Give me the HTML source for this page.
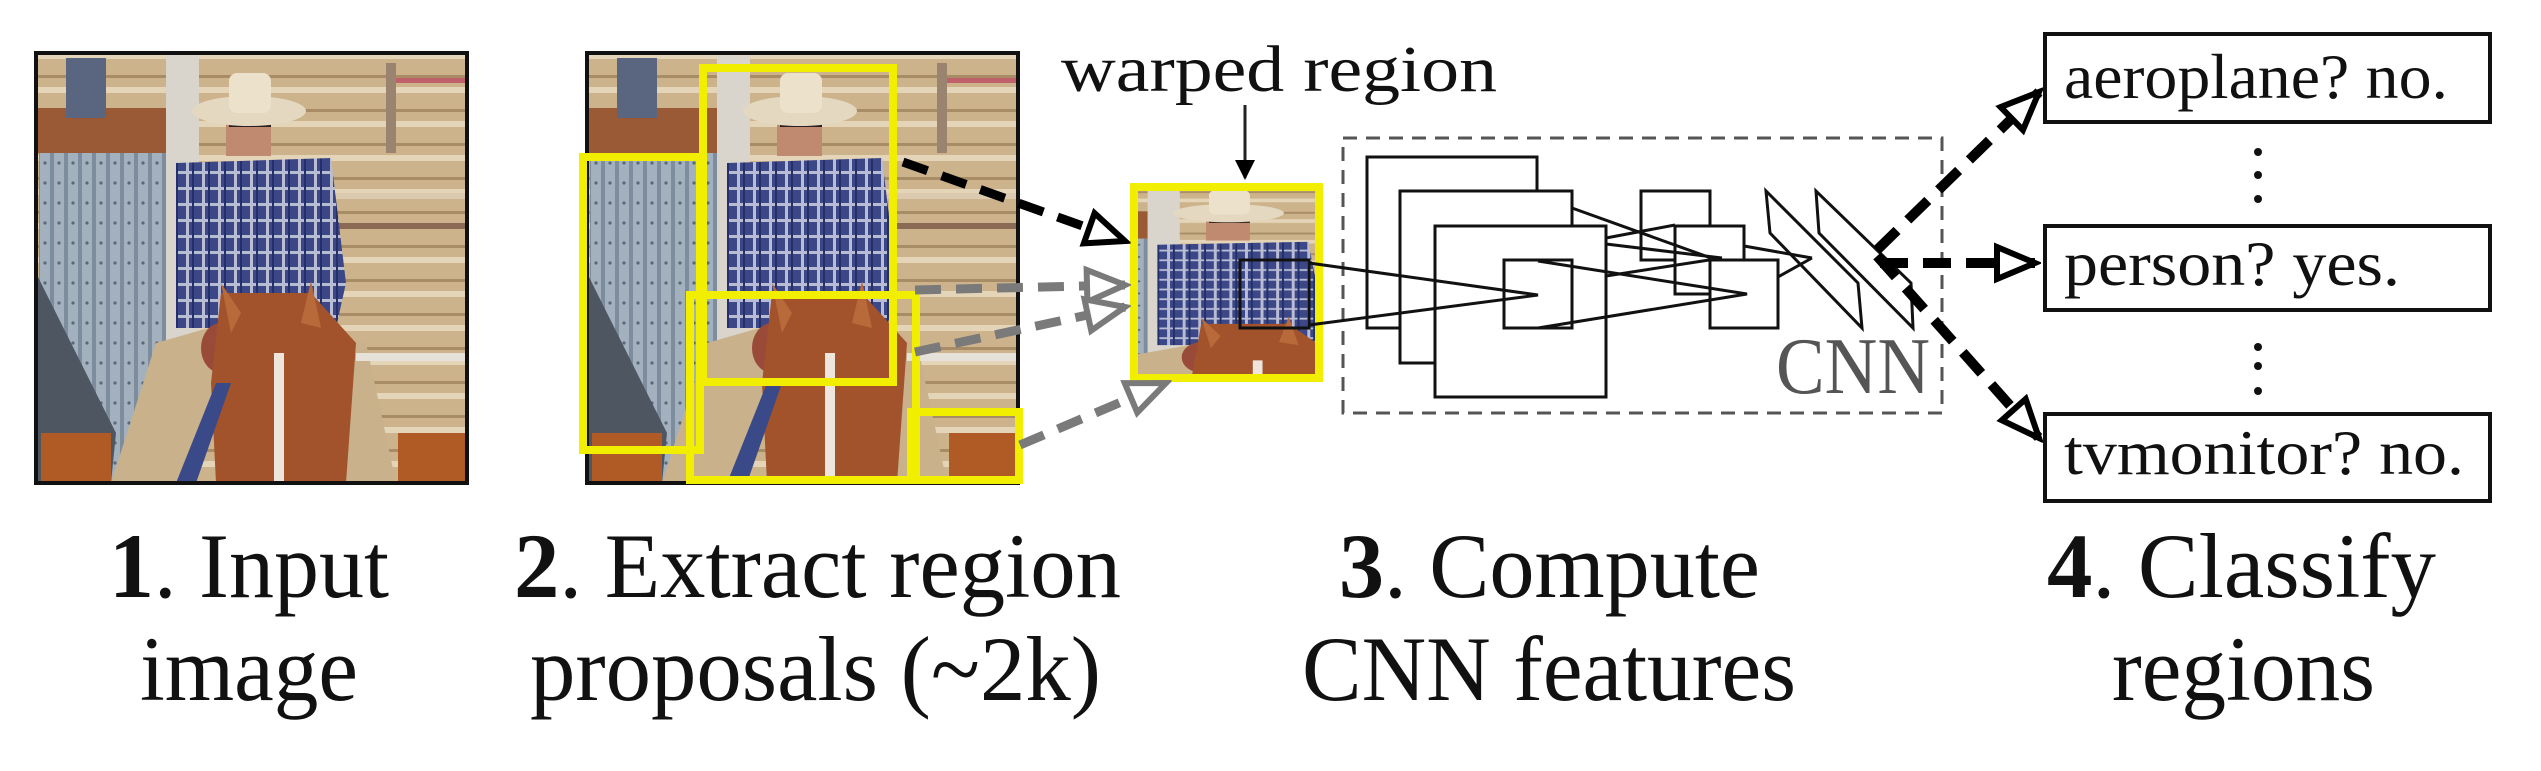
<!DOCTYPE html>
<html><head><meta charset="utf-8"><style>
html,body{margin:0;padding:0;background:#fff;}
svg{display:block;}
text{font-family:"Liberation Serif","Times New Roman",Times,serif;}
</style></head><body>
<svg width="2541" height="771" viewBox="0 0 2541 771" xmlns="http://www.w3.org/2000/svg" font-family="'Liberation Serif', 'Times New Roman', Times, serif">
<defs>
<pattern id="plaid" width="16" height="16" patternUnits="userSpaceOnUse">
<rect width="16" height="16" fill="#3c4788"/>
<rect x="0" y="6" width="16" height="3" fill="#b9bdd4"/>
<rect x="6" y="0" width="3" height="16" fill="#b9bdd4"/>
<rect x="12" y="0" width="2" height="16" fill="#25306a"/>
</pattern>
<pattern id="corr" width="14" height="20" patternUnits="userSpaceOnUse">
<rect width="14" height="20" fill="#a3b1bf"/>
<rect x="0" width="4" height="20" fill="#7d8d9d"/>
<circle cx="9" cy="10" r="1.6" fill="#5a6878"/>
</pattern>
<pattern id="planks" width="40" height="34" patternUnits="userSpaceOnUse">
<rect width="40" height="34" fill="#cdb38c"/>
<rect y="0" width="40" height="6" fill="#e4d4b8"/>
<rect y="22" width="40" height="3" fill="#a88c66"/>
</pattern>
<symbol id="scene" viewBox="0 0 431 430" preserveAspectRatio="none">
<rect width="431" height="430" fill="url(#planks)"/>
<rect x="300" y="170" width="131" height="6" fill="#8a6a55"/>
<rect x="300" y="140" width="131" height="6" fill="#dccab0"/>
<rect x="350" y="10" width="10" height="90" fill="#9a8470"/>
<rect x="360" y="25" width="70" height="5" fill="#c0606a"/>
<rect x="0" y="55" width="130" height="45" fill="#9a5a35"/>
<rect x="30" y="5" width="40" height="60" fill="#5a6680"/>
<rect x="3" y="100" width="130" height="330" fill="url(#corr)"/>
<polygon points="0,220 80,380 75,430 0,430" fill="#4e5662"/>
<rect x="130" y="0" width="33" height="290" fill="#d9d5cc"/>
<polygon points="140,110 295,105 310,230 300,275 140,275" fill="url(#plaid)"/>
<rect x="190" y="58" width="45" height="45" fill="#c08a70"/>
<rect x="193" y="66" width="42" height="8" fill="#2a2020"/>
<ellipse cx="213" cy="58" rx="57" ry="15" fill="#e4d8c0"/>
<rect x="193" y="20" width="42" height="40" rx="8" fill="#ece2cc"/>
<polygon points="75,430 120,290 190,270 200,330 150,430" fill="#c9b18c"/>
<polygon points="290,280 330,290 360,430 310,430" fill="#c9b18c"/>
<ellipse cx="185" cy="295" rx="20" ry="25" fill="#9a4a38"/>
<polygon points="185,240 275,240 320,290 310,430 180,430 175,330" fill="#a2532b"/>
<polygon points="185,230 205,260 195,280" fill="#b86a3a"/>
<polygon points="275,228 265,270 285,275" fill="#b86a3a"/>
<rect x="238" y="300" width="10" height="130" fill="#eee6dc"/>
<polygon points="140,430 180,330 195,330 160,430" fill="#3a4a88"/>
<rect x="5" y="380" width="70" height="50" fill="#b05a25"/>
<rect x="362" y="380" width="69" height="50" fill="#b05a25"/>
<rect x="320" y="300" width="111" height="8" fill="#e6e2da"/>
</symbol>
<marker id="ab" markerWidth="50" markerHeight="50" refX="44" refY="22" orient="auto" markerUnits="userSpaceOnUse">
<polygon points="6,6 44,22 6,38" fill="#fff" stroke="#000" stroke-width="6"/>
</marker>
<marker id="ag" markerWidth="50" markerHeight="50" refX="44" refY="22" orient="auto" markerUnits="userSpaceOnUse">
<polygon points="6,6 44,22 6,38" fill="#fff" stroke="#7a7a7a" stroke-width="6"/>
</marker>
<marker id="as" markerWidth="30" markerHeight="24" refX="18" refY="10" orient="auto" markerUnits="userSpaceOnUse">
<polygon points="0,0 20,10 0,20" fill="#000"/>
</marker>
</defs>

<use href="#scene" x="36" y="53" width="431" height="430"/>
<rect x="36" y="53" width="431" height="430" fill="none" stroke="#111" stroke-width="4"/>

<use href="#scene" x="587" y="53" width="431" height="430"/>
<rect x="587" y="53" width="431" height="430" fill="none" stroke="#111" stroke-width="4"/>
<g fill="none" stroke="#f2ee00" stroke-width="8">
<rect x="703" y="68" width="190" height="314"/>
<rect x="583" y="157" width="117" height="293"/>
<rect x="690" y="295" width="226" height="185"/>
<rect x="911" y="412" width="108" height="68"/>
</g>

<svg x="1134" y="187" width="185" height="191" viewBox="116 15 190 314" preserveAspectRatio="none">
<use href="#scene" x="0" y="0" width="431" height="430"/>
</svg>
<rect x="1134" y="187" width="185" height="191" fill="none" stroke="#f2ee00" stroke-width="8"/>
<rect x="1240" y="260" width="69" height="68" fill="none" stroke="#111" stroke-width="3"/>
<text x="1061" y="91" font-size="66" textLength="436" lengthAdjust="spacingAndGlyphs" fill="#111">warped region</text>
<line x1="1245" y1="105" x2="1245" y2="178" stroke="#222" stroke-width="3" marker-end="url(#as)"/>

<g fill="none" stroke-width="9" stroke-dasharray="26 15">
<line x1="903" y1="162" x2="1125" y2="241" stroke="#000" marker-end="url(#ab)"/>
<line x1="915" y1="290" x2="1125" y2="285" stroke="#7a7a7a" marker-end="url(#ag)"/>
<line x1="915" y1="352" x2="1125" y2="307" stroke="#7a7a7a" marker-end="url(#ag)"/>
<line x1="1020" y1="445" x2="1166" y2="383" stroke="#7a7a7a" marker-end="url(#ag)"/>
</g>

<rect x="1343" y="138" width="599" height="275" fill="none" stroke="#555" stroke-width="3" stroke-dasharray="14 9"/>
<g fill="#fff" stroke="#111" stroke-width="3">
<rect x="1367" y="157" width="170" height="171"/>
<rect x="1400" y="191" width="172" height="172"/>
<rect x="1435" y="226" width="171" height="171"/>
<rect x="1504" y="260" width="68" height="68"/>
<rect x="1641" y="191" width="69" height="69"/>
<rect x="1675" y="226" width="69" height="68"/>
<rect x="1710" y="260" width="68" height="68"/>
</g>
<g fill="none" stroke="#111" stroke-width="3">
<polyline points="1309,263 1538,295 1309,325"/>
<polyline points="1538,261 1747,294 1538,328"/>
<line x1="1572" y1="208" x2="1711" y2="258"/>
<line x1="1606" y1="238" x2="1675" y2="225"/>
<line x1="1606" y1="244" x2="1722" y2="258"/>
<line x1="1606" y1="276" x2="1722" y2="258"/>
<line x1="1744" y1="246" x2="1812" y2="258"/>
<line x1="1778" y1="277" x2="1812" y2="258"/>
<polygon points="1766,191 1770,233 1862,328 1858,283"/>
<polygon points="1816,191 1819,233 1913,328 1911,283"/>
</g>
<text x="1776" y="393" font-size="80" textLength="154" lengthAdjust="spacingAndGlyphs" fill="#555">CNN</text>

<g fill="none" stroke="#000" stroke-width="10" stroke-dasharray="28 15">
<line x1="1877" y1="250" x2="2039" y2="92" marker-end="url(#ab)"/>
<line x1="1880" y1="263" x2="2035" y2="263" marker-end="url(#ab)"/>
<line x1="1877" y1="256" x2="2039" y2="438" marker-end="url(#ab)"/>
</g>

<g fill="#fff" stroke="#111" stroke-width="4">
<rect x="2045" y="34" width="445" height="88"/>
<rect x="2045" y="226" width="445" height="84"/>
<rect x="2045" y="414" width="445" height="87"/>
</g>
<g fill="#111">
<circle cx="2258" cy="152" r="4"/><circle cx="2258" cy="175" r="4"/><circle cx="2258" cy="199" r="4"/>
<circle cx="2258" cy="347" r="4"/><circle cx="2258" cy="366" r="4"/><circle cx="2258" cy="391" r="4"/>
</g>
<g font-size="64" fill="#111">
<text x="2064" y="98" textLength="384" lengthAdjust="spacingAndGlyphs">aeroplane? no.</text>
<text x="2064" y="285" textLength="336" lengthAdjust="spacingAndGlyphs">person? yes.</text>
<text x="2064" y="474" textLength="400" lengthAdjust="spacingAndGlyphs">tvmonitor? no.</text>
</g>

<g font-size="92" fill="#111">
<text x="109" y="597" textLength="280" lengthAdjust="spacingAndGlyphs"><tspan font-weight="bold">1</tspan>. Input</text>
<text x="140" y="700" textLength="218" lengthAdjust="spacingAndGlyphs">image</text>
<text x="514" y="597" textLength="607" lengthAdjust="spacingAndGlyphs"><tspan font-weight="bold">2</tspan>. Extract region</text>
<text x="530" y="700" textLength="571" lengthAdjust="spacingAndGlyphs">proposals (~2k)</text>
<text x="1339" y="597" textLength="421" lengthAdjust="spacingAndGlyphs"><tspan font-weight="bold">3</tspan>. Compute</text>
<text x="1302" y="700" textLength="494" lengthAdjust="spacingAndGlyphs">CNN features</text>
<text x="2047" y="597" textLength="389" lengthAdjust="spacingAndGlyphs"><tspan font-weight="bold">4</tspan>. Classify</text>
<text x="2112" y="700" textLength="263" lengthAdjust="spacingAndGlyphs">regions</text>
</g>
</svg>
</body></html>
